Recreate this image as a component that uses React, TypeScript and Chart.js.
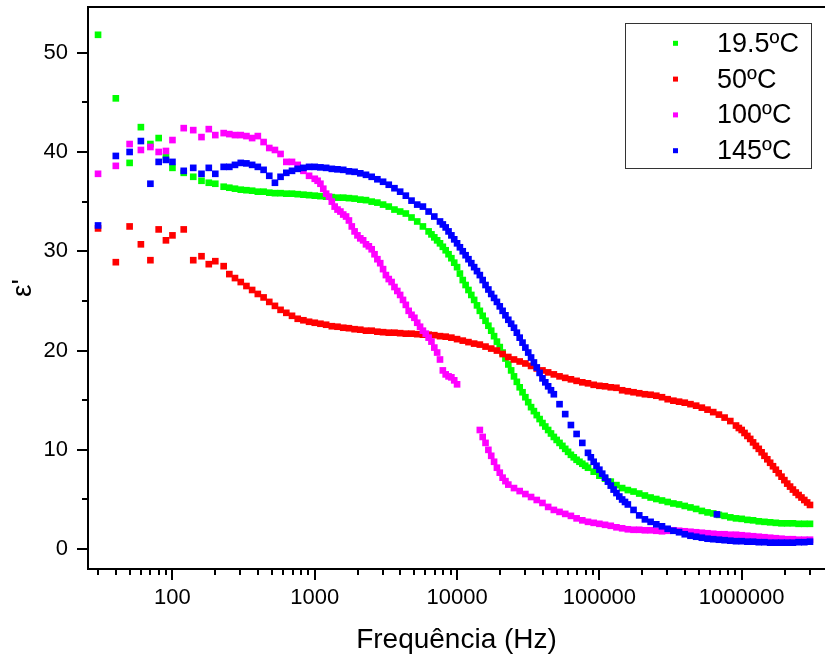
import React, { useEffect, useRef } from 'react';
import { Chart, registerables } from 'chart.js';

Chart.register(...registerables);

// Frequencies (Hz) shared by all four sweeps
const FREQ = [
  30, 40, 50, 60, 70, 80, 90, 100, 120, 140, 160, 180, 200,
  229, 251, 275, 302, 331, 363, 398, 437, 479, 525, 575, 631, 692, 759, 832, 912,
  1000, 1096, 1202, 1318, 1445, 1585, 1738, 1905, 2089, 2291, 2512, 2754, 3020, 3311, 3631, 3981,
  4365, 4786, 5248, 5754, 6310, 6918, 7586, 8318, 9120, 10000,
  10965, 12023, 13183, 14454, 15849, 17378, 19055, 20893, 22909, 25119, 27542, 30200, 33113, 36308,
  39811, 43652, 47863, 52481, 57544, 63096, 69183, 75858, 83176, 91201, 100000,
  109648, 120226, 131826, 144544, 158489, 173780, 190546, 208930, 229087, 251189, 275423, 301995,
  331131, 363078, 398107, 436516, 478630, 524807, 575440, 630957, 691831, 758578, 831764, 912011, 1000000,
  1096478, 1202264, 1318257, 1445440, 1584893, 1737801, 1905461, 2089296, 2290868, 2511886, 2754229, 3019952,
];

const EPS_19_5C = [
  51.8, 45.4, 38.9, 42.5, 40.8, 41.4, 39.5, 38.4, 37.9, 37.5, 37.1, 36.9, 36.8,
  36.5, 36.4, 36.3, 36.2, 36.15, 36.1, 36.0, 36.0, 35.9, 35.85, 35.85, 35.8, 35.8, 35.75, 35.7, 35.65,
  35.6, 35.55, 35.5, 35.45, 35.4, 35.4, 35.35, 35.3, 35.2, 35.15, 35.0, 34.9, 34.7, 34.5, 34.2, 34.0,
  33.8, 33.4, 33.0, 32.5, 32.0, 31.4, 30.8, 30.1, 29.3, 28.4,
  27.1, 26.1, 25.1, 24.0, 23.0, 22.0, 20.9, 19.8, 18.6, 17.4, 16.3, 15.3, 14.3, 13.5,
  12.7, 12.0, 11.3, 10.7, 10.1, 9.5, 9.0, 8.6, 8.2, 7.8, 7.4,
  7.1, 6.8, 6.45, 6.15, 5.95, 5.8, 5.6, 5.4, 5.2, 5.05, 4.9, 4.75,
  4.6, 4.5, 4.35, 4.2, 4.05, 3.85, 3.7, 3.6, 3.45, 3.35, 3.2, 3.1, 3.05,
  2.95, 2.9, 2.8, 2.75, 2.7, 2.65, 2.6, 2.6, 2.6, 2.55, 2.55, 2.55,
];

const EPS_50C = [
  32.3, 28.9, 32.5, 30.7, 29.1, 32.2, 31.1, 31.6, 32.2, 29.1, 29.5, 28.7, 29.0,
  28.5, 27.7, 27.3, 26.9, 26.5, 26.1, 25.7, 25.35, 24.9, 24.5, 24.1, 23.8, 23.5, 23.2, 23.05, 22.9,
  22.8, 22.7, 22.6, 22.45, 22.4, 22.3, 22.25, 22.15, 22.1, 22.0, 22.0, 21.9, 21.85, 21.8, 21.8, 21.75,
  21.7, 21.7, 21.65, 21.6, 21.6, 21.55, 21.45, 21.4, 21.3, 21.15,
  21.0, 20.85, 20.7, 20.6, 20.4, 20.2, 20.0, 19.65, 19.35, 19.1, 18.9, 18.7, 18.45, 18.2,
  18.0, 17.8, 17.6, 17.4, 17.25, 17.1, 16.95, 16.8, 16.7, 16.55, 16.45,
  16.4, 16.3, 16.25, 16.0, 15.9, 15.8, 15.7, 15.6, 15.55, 15.45, 15.3, 15.1,
  14.95, 14.85, 14.75, 14.6, 14.45, 14.25, 14.05, 13.8, 13.55, 13.25, 12.9, 12.45, 12.0,
  11.4, 10.75, 10.1, 9.4, 8.7, 8.0, 7.3, 6.6, 6.0, 5.45, 4.95, 4.45,
];

const EPS_100C = [
  37.8, 38.6, 40.8, 40.2, 40.5, 40.0, 40.1, 41.2, 42.4, 42.2, 41.5, 42.3, 41.7,
  41.9, 41.8, 41.7, 41.7, 41.6, 41.4, 41.6, 41.0, 40.4, 40.2, 39.8, 39.0, 39.0, 38.7, 38.1, 37.6,
  37.3, 36.8, 35.8, 35.0, 34.2, 33.7, 33.1, 32.0, 31.3, 30.7, 30.2, 29.2, 28.2, 27.2, 26.4, 25.6,
  24.6, 23.6, 22.8, 22.0, 21.3, 20.3, 19.1, 17.6, 17.3, 16.6,
  null, null, null, 12.0, 10.7, 9.4, 8.2, 7.2, 6.5, 6.15, 5.85, 5.55, 5.25, 4.95,
  4.65, 4.25, 3.95, 3.75, 3.55, 3.35, 3.1, 2.9, 2.75, 2.65, 2.55,
  2.45, 2.35, 2.2, 2.1, 2.0, 1.95, 1.95, 1.9, 1.9, 1.85, 1.8, 1.85,
  1.9, 1.85, 1.8, 1.75, 1.7, 1.65, 1.6, 1.55, 1.5, 1.5, 1.45, 1.45, 1.4,
  1.35, 1.3, 1.25, 1.2, 1.15, 1.1, 1.05, 1.0, 1.0, 0.95, 0.95, 0.95,
];

const EPS_145C = [
  32.6, 39.6, 40.0, 41.1, 36.8, 39.0, 39.2, 39.0, 38.1, 38.4, 37.8, 38.4, 37.8,
  38.5, 38.5, 38.7, 38.9, 38.85, 38.7, 38.5, 38.2, 37.6, 36.9, 37.5, 37.9, 38.1, 38.3, 38.4, 38.5,
  38.5, 38.45, 38.4, 38.3, 38.25, 38.2, 38.05, 38.0, 37.85, 37.7, 37.5, 37.25, 37.0, 36.7, 36.35, 36.0,
  35.6, 35.1, 34.7, 34.5, 34.0, 33.5, 33.0, 32.4, 31.6, 30.8,
  30.0, 29.2, 28.4, 27.6, 26.6, 25.7, 24.9, 24.0, 23.1, 22.3, 21.3, 20.3, 19.3, 18.3,
  17.2, 16.4, 15.6, 14.6, 13.6, 12.5, 11.6, 10.7, 9.7, 8.8, 8.0,
  7.2, 6.4, 5.65, 5.0, 4.5, 3.95, 3.4, 3.0, 2.75, 2.5, 2.3, 2.05,
  1.85, 1.7, 1.5, 1.35, 1.25, 1.15, 1.05, 1.0, 0.95, 0.9, 0.85, 0.8, 0.8,
  0.75, 0.75, 0.7, 0.7, 0.65, 0.65, 0.65, 0.65, 0.65, 0.7, 0.7, 0.75,
];

// Additional readings where each sweep falls steeply (denser instrument points)
const EXTRA_FREQ_19_5C = [
  6607, 7244, 7943, 8710, 9550, 10471, 11482, 12589, 13804, 15136, 16596, 18197,
  19953, 21878, 23988, 26303, 28840, 31623, 34674, 38019, 41687, 45709, 50119,
  54954, 60256, 66069, 72444, 79433,
];
const EXTRA_EPS_19_5C = [
  31.7, 31.1, 30.45, 29.7, 28.85, 27.75, 26.6, 25.6, 24.55, 23.5, 22.5, 21.45,
  20.35, 19.2, 18.0, 16.85, 15.8, 14.8, 13.9, 13.1, 12.35, 11.65, 11.0,
  10.4, 9.8, 9.25, 8.8, 8.4,
];

const EXTRA_FREQ_50C = [
  954993, 1047129, 1148154, 1258925, 1380384, 1513561, 1659587, 1819701, 1995262,
  2187762, 2398833, 2630268, 2884032,
];
const EXTRA_EPS_50C = [
  12.2, 11.7, 11.1, 10.4, 9.75, 9.05, 8.35, 7.65, 6.95,
  6.3, 5.7, 5.2, 4.7,
];

const EXTRA_FREQ_100C = [
  1047, 1148, 1259, 1380, 1514, 1660, 1820, 1995, 2188, 2399, 2630, 2884, 3162,
  3467, 3802, 4169, 4571, 5012, 5495, 6026, 6607, 7244, 7943, 8710, 9550,
  15136, 16596, 18197, 19953, 21878,
];
const EXTRA_EPS_100C = [
  37.1, 36.3, 35.5, 34.5, 34.0, 33.5, 32.5, 31.6, 31.1, 30.5, 29.7, 28.8, 27.6,
  26.9, 26.0, 25.1, 24.0, 23.3, 22.4, 21.7, 20.9, 19.8, 18.0, 17.4, 17.0,
  11.3, 10.0, 8.8, 7.7, 6.85,
];

const EXTRA_FREQ_145C = [
  7943, 8710, 9550, 10471, 11482, 12589, 13804, 15136, 16596, 18197, 19953, 21878,
  23988, 26303, 28840, 31623, 34674, 38019, 41687, 45709,
  87096, 95499, 104713, 114815, 125893, 138038, 151356,
  670000,
];
const EXTRA_EPS_145C = [
  32.7, 32.0, 31.2, 30.4, 29.6, 28.8, 28.0, 27.1, 26.15, 25.3, 24.45, 23.55,
  22.7, 21.8, 20.8, 19.8, 18.8, 17.75, 16.8, 16.0,
  9.25, 8.4, 7.6, 6.8, 6.0, 5.3, 4.75,
  3.5,
];

const SERIES_LABELS = ['19.5ºC', '50ºC', '100ºC', '145ºC'];
const SERIES_COLORS = ['#00ff00', '#ff0000', '#ff00ff', '#0000ff'];

const X_LABEL_TICKS = [100, 1000, 10000, 100000, 1000000];
const Y_LABEL_TICKS = [0, 10, 20, 30, 40, 50];

const FONT = "'Liberation Sans', Arial, Helvetica, sans-serif";

function toPoints(freq: number[], vals: (number | null)[]) {
  const pts: { x: number; y: number }[] = [];
  freq.forEach((f, i) => {
    const v = vals[i];
    if (v !== null && v !== undefined) pts.push({ x: f, y: v });
  });
  return pts;
}

const framePlugin = {
  id: 'frameAndLegend',
  afterDraw(chart: any) {
    const { ctx, chartArea: a, scales } = chart;
    const xs = scales.x;
    const ys = scales.y;
    ctx.save();
    ctx.strokeStyle = '#000';
    ctx.lineWidth = 2;
    ctx.lineCap = 'butt';
    ctx.beginPath();
    ctx.moveTo(a.left, a.top - 1);
    ctx.lineTo(a.left, a.bottom + 1);
    ctx.moveTo(a.left - 1, a.bottom);
    ctx.lineTo(a.right, a.bottom);
    ctx.moveTo(a.left - 1, a.top);
    ctx.lineTo(a.right, a.top);
    for (let d = 1; d <= 7; d++) {
      for (let k = 1; k <= 9; k++) {
        const v = k * Math.pow(10, d);
        if (v < xs.min || v > xs.max) continue;
        const px = Math.round(xs.getPixelForValue(v));
        const len = k === 1 ? 11 : 6;
        ctx.moveTo(px, a.bottom);
        ctx.lineTo(px, a.bottom + len);
      }
    }
    for (let v = 0; v <= 50; v += 5) {
      const py = Math.round(ys.getPixelForValue(v));
      const len = v % 10 === 0 ? 11 : 6;
      ctx.moveTo(a.left, py);
      ctx.lineTo(a.left - len, py);
    }
    ctx.stroke();

    // legend
    ctx.lineWidth = 1;
    ctx.strokeStyle = '#333';
    ctx.strokeRect(625.5, 23.5, 186, 145);
    ctx.font = `27px ${FONT}`;
    ctx.textBaseline = 'middle';
    ctx.textAlign = 'left';
    chart.data.datasets.forEach((ds: any, i: number) => {
      const y = 43.3 + 35.8 * i;
      ctx.fillStyle = ds.backgroundColor;
      ctx.fillRect(673, y - 2.5, 5, 5);
      ctx.fillStyle = '#000';
      ctx.fillText(ds.label, 717, y + 1);
    });
    ctx.restore();
  },
};

function zeroPadding(scale: any) {
  scale.paddingTop = 0;
  scale.paddingBottom = 0;
  scale.paddingLeft = 0;
  scale.paddingRight = 0;
}

export default function App() {
  const canvasRef = useRef<HTMLCanvasElement | null>(null);

  useEffect(() => {
    const canvas = canvasRef.current;
    if (!canvas) return;
    const mainVals = [EPS_19_5C, EPS_50C, EPS_100C, EPS_145C];
    const extraFreq = [EXTRA_FREQ_19_5C, EXTRA_FREQ_50C, EXTRA_FREQ_100C, EXTRA_FREQ_145C];
    const extraVals = [EXTRA_EPS_19_5C, EXTRA_EPS_50C, EXTRA_EPS_100C, EXTRA_EPS_145C];
    const datasets = mainVals.map((vals, i) => {
      const data = toPoints(FREQ, vals)
        .concat(toPoints(extraFreq[i], extraVals[i]))
        .sort((p, q) => p.x - q.x);
      return {
        label: SERIES_LABELS[i],
        data,
        backgroundColor: SERIES_COLORS[i],
        borderColor: SERIES_COLORS[i],
        borderWidth: 0,
        pointStyle: 'rect',
        pointRadius: 4.7,
        pointHoverRadius: 4.7,
        showLine: false,
        order: 4 - i,
      };
    });

    const chart = new Chart(canvas, {
      type: 'scatter',
      data: { datasets },
      plugins: [framePlugin],
      options: {
        animation: false,
        responsive: false,
        devicePixelRatio: 1,
        layout: { padding: { top: 7, right: 0, bottom: 0, left: 0 }, autoPadding: false },
        plugins: { legend: { display: false }, tooltip: { enabled: false } },
        scales: {
          x: {
            type: 'logarithmic',
            min: 25.5,
            max: 3850000,
            grid: { display: false, drawTicks: false },
            border: { display: false },
            afterBuildTicks: (scale: any) => {
              scale.ticks = X_LABEL_TICKS.map((v) => ({ value: v }));
            },
            afterFit: (scale: any) => {
              scale.height = 89;
              zeroPadding(scale);
            },
            ticks: {
              autoSkip: false,
              maxRotation: 0,
              padding: 16,
              color: '#000',
              font: { family: FONT, size: 22 },
              callback: (v: any) => String(v),
            },
            title: {
              display: true,
              text: 'Frequência (Hz)',
              color: '#000',
              font: { family: FONT, size: 28 },
              padding: { top: 0, bottom: 1 },
            },
          },
          y: {
            type: 'linear',
            min: -2,
            max: 54.6,
            grid: { display: false, drawTicks: false },
            border: { display: false },
            afterBuildTicks: (scale: any) => {
              scale.ticks = Y_LABEL_TICKS.map((v) => ({ value: v }));
            },
            afterFit: (scale: any) => {
              scale.width = 88;
              zeroPadding(scale);
            },
            ticks: {
              autoSkip: false,
              padding: 20,
              color: '#000',
              font: { family: FONT, size: 22 },
              callback: (v: any) => String(v),
            },
            title: {
              display: true,
              text: "ε'",
              color: '#000',
              font: { family: FONT, size: 28 },
              padding: { top: 6, bottom: 0 },
            },
          },
        },
      },
    } as any);

    return () => {
      chart.destroy();
    };
  }, []);

  return (
    <div style={{ position: 'fixed', left: 0, top: 0, width: 825, height: 658, background: '#fff' }}>
      <canvas ref={canvasRef} width={825} height={658} style={{ display: 'block' }} />
    </div>
  );
}
